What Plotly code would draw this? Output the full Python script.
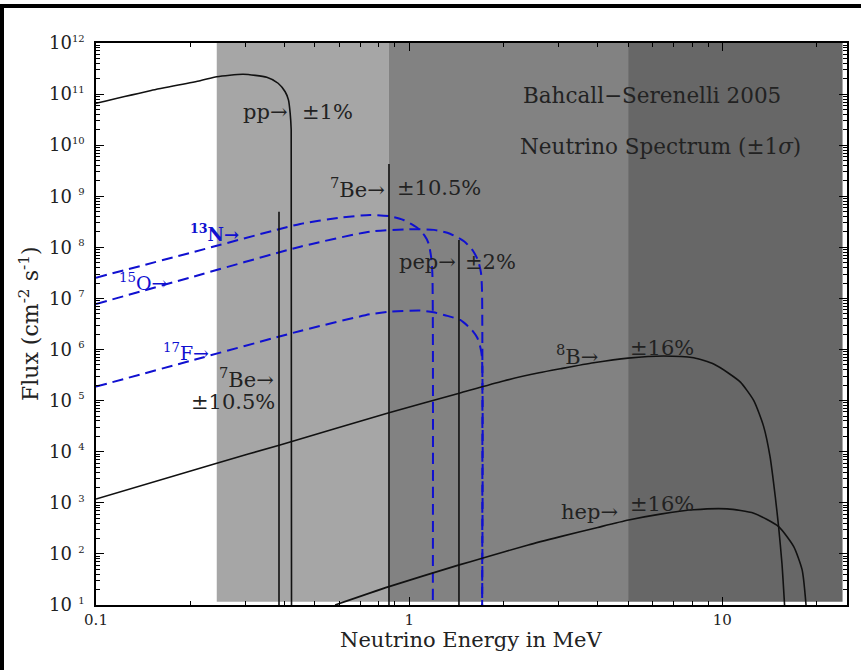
import plotly.graph_objects as go

# ---------------- data ----------------
pp_E = [0.1, 0.15, 0.215, 0.243, 0.295, 0.351, 0.3815, 0.4018, 0.4116, 0.4168, 0.42, 0.421]
pp_F = [6.6e10, 1.18e11, 1.83e11, 2.19e11, 2.44e11, 2.13e11, 1.63e11, 1.11e11, 7.7e10, 4.27e10, 2.0e10, 10]

b8_E = [0.1, 0.243, 0.387, 0.862, 1.445, 2.0, 2.6, 3.04, 3.88, 5.0, 6.49, 8.1, 9.38, 10.5,
        11.42, 12.6, 13.55, 14.2, 14.76, 15.12, 15.5, 15.8]
b8_F = [1.19e3, 5.96e3, 1.36e4, 5.8e4, 1.4e5, 2.43e5, 3.5e5, 4.2e5, 5.5e5, 6.8e5, 7.5e5, 6.9e5,
        5.2e5, 3.4e5, 2.3e5, 1.0e5, 3.1e4, 8.0e3, 1.3e3, 342, 65, 10]

hep_E = [0.58, 0.862, 1.445, 1.71, 2.4, 3.04, 4.0, 5.02, 6.34, 8.1, 10.35, 12.6, 15.12, 16.9, 17.98, 18.5]
hep_F = [10, 22.9, 61, 82, 150, 218, 330, 460, 600, 730, 760, 625, 342, 139, 48.6, 10]

n13_E = [0.1, 0.2, 0.449, 0.6, 0.75, 0.87, 0.959, 1.058, 1.12, 1.153, 1.175, 1.186, 1.19]
n13_F = [2.55e7, 7.8e7, 2.87e8, 3.8e8, 4.3e8, 4.05e8, 3.44e8, 2.45e8, 1.7e8, 1.2e8, 6.5e7, 3.0e7, 10]

o15_E = [0.1, 0.2, 0.449, 0.75, 1.0, 1.2, 1.35, 1.5, 1.6, 1.66, 1.695, 1.708, 1.71]
o15_F = [7.8e6, 2.57e7, 1.03e8, 2.03e8, 2.25e8, 2.2e8, 1.85e8, 1.3e8, 8.5e7, 5.5e7, 3.2e7, 1.5e7, 10]

f17_E = [0.1, 0.2, 0.449, 0.75, 0.87, 1.084, 1.196, 1.3, 1.455, 1.586, 1.65, 1.686, 1.707, 1.71]
f17_F = [1.88e5, 6.0e5, 2.31e6, 4.9e6, 5.5e6, 5.8e6, 5.37e6, 4.7e6, 3.8e6, 2.42e6, 1.7e6, 1.14e6, 7.3e5, 10]

be7_E = [0.384, 0.862]
be7_F = [5.0e8, 4.3e9]
pep_E = [1.442]
pep_F = [1.4e8]

band_edges = [0.243, 0.862, 5.0, 24.2]
band_colors = ["#a6a6a6", "#828282", "#676767"]
band_ylow, band_yhigh = 11.6, 1e12

y_exps = list(range(1, 13))
x_ticks = [0.1, 1, 10]
x_ticktext = ["0.1", "1", "10"]

# ---------------- geometry helpers ----------------
W, H = 861, 670
L, R, T, B = 96, 847, 43, 605
def xp(px): return (px - L) / (R - L)
def yp(py): return (B - py) / (B - T)

FONT = "DejaVu Serif"
TXT = "#222222"
BLUE = "#1010d0"
LINE = "#111111"

fig = go.Figure()

# shaded bands
for i, c in enumerate(band_colors):
    x0, x1 = band_edges[i], band_edges[i + 1]
    fig.add_trace(go.Scatter(x=[x0, x1, x1, x0, x0],
                             y=[band_ylow, band_ylow, band_yhigh, band_yhigh, band_ylow],
                             fill="toself", fillcolor=c, line=dict(width=0), mode="lines",
                             hoverinfo="skip"))

# blue dashed CNO spectra
for E, F in [(n13_E, n13_F), (o15_E, o15_F), (f17_E, f17_F)]:
    fig.add_trace(go.Scatter(x=E, y=F, mode="lines",
                             line=dict(color=BLUE, width=2, dash="11px,6px",
                                       shape="spline", smoothing=0.6)))

# black continuous spectra
for E, F in [(pp_E, pp_F), (b8_E, b8_F), (hep_E, hep_F)]:
    fig.add_trace(go.Scatter(x=E, y=F, mode="lines",
                             line=dict(color=LINE, width=1.6, shape="spline", smoothing=0.6)))

# line sources
for E, F in zip(be7_E + pep_E, be7_F + pep_F):
    fig.add_trace(go.Scatter(x=[E, E], y=[10, F], mode="lines",
                             line=dict(color=LINE, width=1.6)))

# ---------------- annotations ----------------
def ann(text, px, py, anchor="center", size=21, color=TXT, angle=0):
    fig.add_annotation(x=xp(px), y=yp(py), xref="paper", yref="paper", text=text,
                       showarrow=False, xanchor=anchor, yanchor="middle", textangle=angle,
                       font=dict(family=FONT, size=size, color=color))

ann("pp→", 289, 112, "right")
ann("±1%", 300, 112, "left")
ann("<sup>7</sup>Be→", 387, 188, "right")
ann("±10.5%", 395, 188, "left")
ann("pep→", 458, 262, "right")
ann("±2%", 463, 262, "left")
ann("<b><sup>13</sup>N→</b>", 241, 233, "right", 18, BLUE)
ann("<sup>15</sup>O→", 169, 282, "right", 19, BLUE)
ann("<sup>17</sup>F→", 211, 352, "right", 19, BLUE)
ann("<sup>7</sup>Be→", 276, 378, "right")
ann("±10.5%", 277, 402, "right")
ann("<sup>8</sup>B→", 600, 355, "right")
ann("±16%", 628, 348, "left")
ann("hep→", 620, 512, "right")
ann("±16%", 628, 504, "left")
ann("Bahcall−Serenelli 2005", 652, 95, "center", 21.5)
ann("Neutrino Spectrum (±1<i>σ</i>)", 660, 147, "center", 21.5)
# axis titles
ann("Neutrino Energy in MeV", 471, 640, "center", 21)
ann("Flux (cm<sup>-2</sup> s<sup>-1</sup>)", 29, 324, "center", 22, angle=-90)

# ---------------- axes ----------------
def ylab(k):
    s = str(k) if k >= 10 else "\u2007" + str(k)
    return "10<sup><span style='font-size:10px'>" + s + "</span></sup>"

y_ticks = [10.0 ** k for k in y_exps]
y_minor = [m * 10.0 ** k for k in y_exps[:-1] for m in range(2, 10)]
x_minor = [m * 10.0 ** k for k in (-1, 0) for m in range(2, 10)] + [20.0]

axis_common = dict(type="log", showgrid=False, zeroline=False, showline=True,
                   linecolor="black", linewidth=1.5, mirror="allticks",
                   ticks="inside", ticklen=8, tickwidth=1, tickcolor="black",
                   automargin=False)

fig.update_xaxes(**axis_common, range=[-1, 1.398], tickmode="array",
                 tickvals=x_ticks, ticktext=x_ticktext,
                 tickfont=dict(family=FONT, size=15, color=TXT),
                 minor=dict(ticks="inside", ticklen=4, tickwidth=1, tickcolor="black",
                            tickmode="array", tickvals=x_minor))
fig.update_yaxes(**axis_common, range=[1, 12], tickmode="array",
                 tickvals=y_ticks, ticktext=[ylab(k) for k in y_exps],
                 tickfont=dict(family=FONT, size=18, color=TXT), ticklabelstandoff=6,
                 minor=dict(ticks="inside", ticklen=4, tickwidth=1, tickcolor="black",
                            tickmode="array", tickvals=y_minor))

# outer (cropped) frame: thick lines at left and top of the image
fig.add_shape(type="line", xref="paper", yref="paper", x0=xp(2), x1=xp(2),
              y0=yp(672), y1=yp(4), line=dict(color="black", width=4))
fig.add_shape(type="line", xref="paper", yref="paper", x0=xp(0), x1=xp(861),
              y0=yp(6), y1=yp(6), line=dict(color="black", width=4))

fig.update_layout(width=W, height=H, showlegend=False,
                  margin=dict(l=L, r=W - R, t=T, b=H - B, autoexpand=False),
                  plot_bgcolor="white", paper_bgcolor="white")

fig.write_html("out.html", config={"displayModeBar": False},
               post_script="document.body.style.margin='0px';document.body.style.overflow='hidden';")
